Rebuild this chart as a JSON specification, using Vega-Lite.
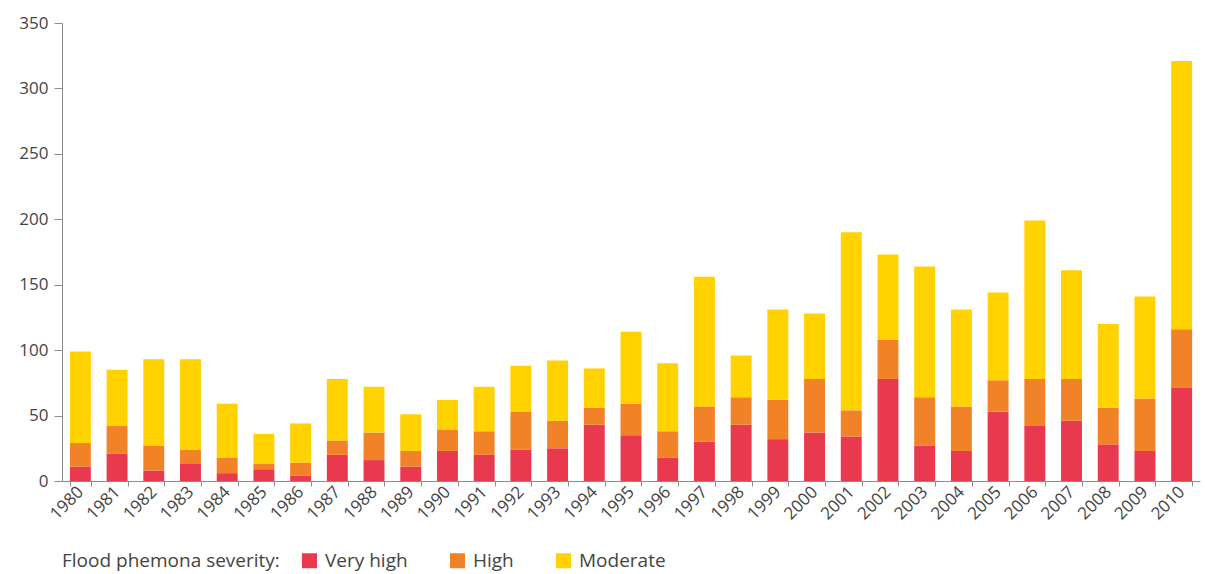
{
  "$schema": "https://vega.github.io/schema/vega-lite/v6.json",
  "autosize": {"type": "none"},
  "width": 1138,
  "height": 458,
  "padding": {"left": 62, "top": 23, "right": 5, "bottom": 93},
  "background": "white",
  "config": {
    "font": "Open Sans",
    "view": {"stroke": null},
    "axis": {
      "labelFont": "Open Sans",
      "labelColor": "#444444",
      "domainColor": "#8c8c8c",
      "tickColor": "#8c8c8c",
      "grid": false,
      "title": null
    },
    "legend": {
      "labelFont": "Open Sans",
      "titleFont": "Open Sans"
    }
  },
  "data": {
    "values": [
      {"year": "1980", "Very high": 11, "High": 18, "Moderate": 70},
      {"year": "1981", "Very high": 21, "High": 21, "Moderate": 43},
      {"year": "1982", "Very high": 8, "High": 19, "Moderate": 66},
      {"year": "1983", "Very high": 13, "High": 11, "Moderate": 69},
      {"year": "1984", "Very high": 6, "High": 12, "Moderate": 41},
      {"year": "1985", "Very high": 9, "High": 4, "Moderate": 23},
      {"year": "1986", "Very high": 4, "High": 10, "Moderate": 30},
      {"year": "1987", "Very high": 20, "High": 11, "Moderate": 47},
      {"year": "1988", "Very high": 16, "High": 21, "Moderate": 35},
      {"year": "1989", "Very high": 11, "High": 12, "Moderate": 28},
      {"year": "1990", "Very high": 23, "High": 16, "Moderate": 23},
      {"year": "1991", "Very high": 20, "High": 18, "Moderate": 34},
      {"year": "1992", "Very high": 24, "High": 29, "Moderate": 35},
      {"year": "1993", "Very high": 25, "High": 21, "Moderate": 46},
      {"year": "1994", "Very high": 43, "High": 13, "Moderate": 30},
      {"year": "1995", "Very high": 35, "High": 24, "Moderate": 55},
      {"year": "1996", "Very high": 18, "High": 20, "Moderate": 52},
      {"year": "1997", "Very high": 30, "High": 27, "Moderate": 99},
      {"year": "1998", "Very high": 43, "High": 21, "Moderate": 32},
      {"year": "1999", "Very high": 32, "High": 30, "Moderate": 69},
      {"year": "2000", "Very high": 37, "High": 41, "Moderate": 50},
      {"year": "2001", "Very high": 34, "High": 20, "Moderate": 136},
      {"year": "2002", "Very high": 78, "High": 30, "Moderate": 65},
      {"year": "2003", "Very high": 27, "High": 37, "Moderate": 100},
      {"year": "2004", "Very high": 23, "High": 34, "Moderate": 74},
      {"year": "2005", "Very high": 53, "High": 24, "Moderate": 67},
      {"year": "2006", "Very high": 42, "High": 36, "Moderate": 121},
      {"year": "2007", "Very high": 46, "High": 32, "Moderate": 83},
      {"year": "2008", "Very high": 28, "High": 28, "Moderate": 64},
      {"year": "2009", "Very high": 23, "High": 40, "Moderate": 78},
      {"year": "2010", "Very high": 71, "High": 45, "Moderate": 205}
    ]
  },
  "transform": [
    {"fold": ["Very high", "High", "Moderate"], "as": ["severity", "count"]},
    {"window": [{"op": "row_number", "as": "level"}], "groupby": ["year"]}
  ],
  "mark": {"type": "bar"},
  "encoding": {
    "x": {
      "field": "year",
      "type": "ordinal",
      "scale": {"paddingInner": 0.43, "paddingOuter": 0.215},
      "axis": {
        "tickBand": "extent",
        "tickSize": 5,
        "labelAngle": -45,
        "labelAlign": "right",
        "labelBaseline": "middle",
        "labelFontSize": 17,
        "labelPadding": 3
      }
    },
    "y": {
      "field": "count",
      "type": "quantitative",
      "stack": "zero",
      "scale": {"domain": [0, 350], "nice": false},
      "axis": {
        "values": [0, 50, 100, 150, 200, 250, 300, 350],
        "tickSize": 8,
        "labelFontSize": 17,
        "labelPadding": 6
      }
    },
    "color": {
      "field": "severity",
      "type": "nominal",
      "sort": ["Very high", "High", "Moderate"],
      "scale": {
        "domain": ["Very high", "High", "Moderate"],
        "range": ["#e8394e", "#f28227", "#ffd200"]
      },
      "legend": {
        "title": "Flood phemona severity:",
        "orient": "none",
        "legendX": 0,
        "legendY": 528,
        "direction": "horizontal",
        "titleOrient": "left",
        "titleAnchor": "middle",
        "titleFontSize": 19,
        "titleFontWeight": "normal",
        "titleColor": "#444444",
        "titleLimit": 400,
        "titlePadding": 20,
        "symbolType": "square",
        "symbolSize": 225,
        "symbolStrokeWidth": 0,
        "symbolOpacity": 1,
        "labelFontSize": 19,
        "labelColor": "#444444",
        "labelLimit": 200,
        "labelOffset": 6,
        "columnPadding": 40
      }
    },
    "order": {"field": "level", "type": "quantitative", "sort": "ascending"}
  }
}
